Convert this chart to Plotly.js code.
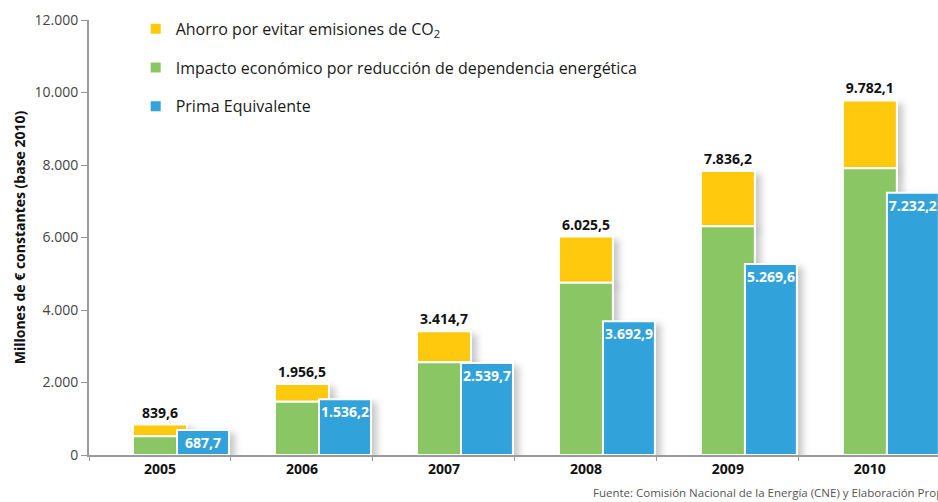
<!DOCTYPE html>
<html>
<head>
<meta charset="utf-8">
<script src="https://cdn.plot.ly/plotly-3.0.1.min.js"></script>
<style>
  html, body { margin: 0; padding: 0; background: #fff; }
  #chart { width: 938px; height: 502px; }
</style>
</head>
<body>
<div id="chart"></div>
<script>
// ---- data ----
const years = ['2005', '2006', '2007', '2008', '2009', '2010'];
const totalAhorro = [839.6, 1956.5, 3414.7, 6025.5, 7836.2, 9782.1];      // green + yellow
const impactoEconomico = [520, 1470, 2560, 4750, 6310, 7910];             // green segment
const primaEquivalente = [687.7, 1536.2, 2539.7, 3692.9, 5269.6, 7232.2]; // blue bars
const yTicks = [0, 2000, 4000, 6000, 8000, 10000, 12000];

const ahorroCO2 = totalAhorro.map((t, i) => t - impactoEconomico[i]);

const FONT = '"Open Sans", "Noto Sans", sans-serif';
const fmt = v => v.toLocaleString('de-DE', {minimumFractionDigits: 1, maximumFractionDigits: 1});

const traces = [
  {
    type: 'bar', name: 'Ahorro por evitar emisiones de CO<sub>2</sub>',
    x: years, y: ahorroCO2, base: impactoEconomico,
    width: 0.38, offset: -0.19,
    marker: {color: '#FFC907', line: {color: '#ffffff', width: 2}},
    text: totalAhorro.map(fmt), textposition: 'outside', constraintext: 'none', textangle: 0,
    textfont: {family: FONT, size: 14, color: '#111', weight: 'bold'},
    cliponaxis: false, hoverinfo: 'skip'
  },
  {
    type: 'bar', name: 'Impacto económico por reducción de dependencia energética',
    x: years, y: impactoEconomico,
    width: 0.38, offset: -0.19,
    marker: {color: '#8BC665', line: {color: '#ffffff', width: 2}},
    hoverinfo: 'skip'
  },
  {
    type: 'bar', name: 'Prima Equivalente',
    x: years, y: primaEquivalente,
    width: 0.366, offset: 0.12,
    marker: {color: '#33A3DA', line: {color: '#ffffff', width: 2}},
    text: primaEquivalente.map(fmt), textposition: 'inside', insidetextanchor: 'end',
    constraintext: 'none', textangle: 0,
    textfont: {family: FONT, size: 14, color: '#ffffff', weight: 'bold'},
    cliponaxis: false, hoverinfo: 'skip'
  }
];

const layout = {
  width: 938, height: 502,
  margin: {l: 89, r: 0, t: 20, b: 47},
  paper_bgcolor: '#ffffff', plot_bgcolor: '#ffffff',
  barmode: 'overlay',
  separators: ',.',
  font: {family: FONT, color: '#222'},
  showlegend: true,
  legend: {
    x: 0.055, y: 1.019, xanchor: 'left', yanchor: 'top',
    traceorder: 'grouped', tracegroupgap: 15,
    font: {family: FONT, size: 16, color: '#1a1a1a'},
    bgcolor: 'rgba(0,0,0,0)'
  },
  xaxis: {
    type: 'category', range: [-0.5, 5.48],
    tickson: 'boundaries', ticks: 'outside', ticklen: 4, tickcolor: '#999', tickwidth: 1,
    showline: true, linecolor: '#9a9a9a', linewidth: 2,
    showgrid: false, zeroline: false,
    tickfont: {family: FONT, size: 14, color: '#111', weight: 'bold'}
  },
  yaxis: {
    range: [0, 12000], tickvals: yTicks, tickformat: ',d',
    ticks: 'outside', ticklen: 6, tickcolor: '#999', tickwidth: 1,
    showline: true, linecolor: '#9a9a9a', linewidth: 2,
    showgrid: false, zeroline: false,
    tickfont: {family: FONT, size: 14, color: '#444'},
    title: {text: 'Millones de € constantes (base 2010)', standoff: 6,
            font: {family: FONT, size: 14, color: '#111', weight: 'bold'}}
  },
  annotations: [{
    xref: 'paper', yref: 'paper', x: (591 - 89) / 849, y: -0.087,
    xanchor: 'left', yanchor: 'middle', showarrow: false,
    text: 'Fuente: Comisión Nacional de la Energía (CNE) y Elaboración Propia',
    font: {family: FONT, size: 11.5, color: '#555'}
  }]
};

traces.forEach((t, i) => { t.legendgroup = 'g' + i; });

Plotly.newPlot('chart', traces, layout, {displayModeBar: false, staticPlot: true}).then(gd => {
  const svg = gd.querySelector('svg.main-svg');
  const NS = 'http://www.w3.org/2000/svg';
  let defs = svg.querySelector('defs');
  if (!defs) { defs = document.createElementNS(NS, 'defs'); svg.insertBefore(defs, svg.firstChild); }
  const f = document.createElementNS(NS, 'filter');
  f.setAttribute('id', 'barshadow');
  f.setAttribute('x', '-20%'); f.setAttribute('y', '-20%');
  f.setAttribute('width', '160%'); f.setAttribute('height', '140%');
  f.innerHTML = '<feDropShadow dx="5" dy="4" stdDeviation="3.5" flood-color="#000" flood-opacity="0.22"/>';
  defs.appendChild(f);
  gd.querySelectorAll('.trace.bars .point path').forEach(p => p.setAttribute('filter', 'url(#barshadow)'));
});
</script>
</body>
</html>
